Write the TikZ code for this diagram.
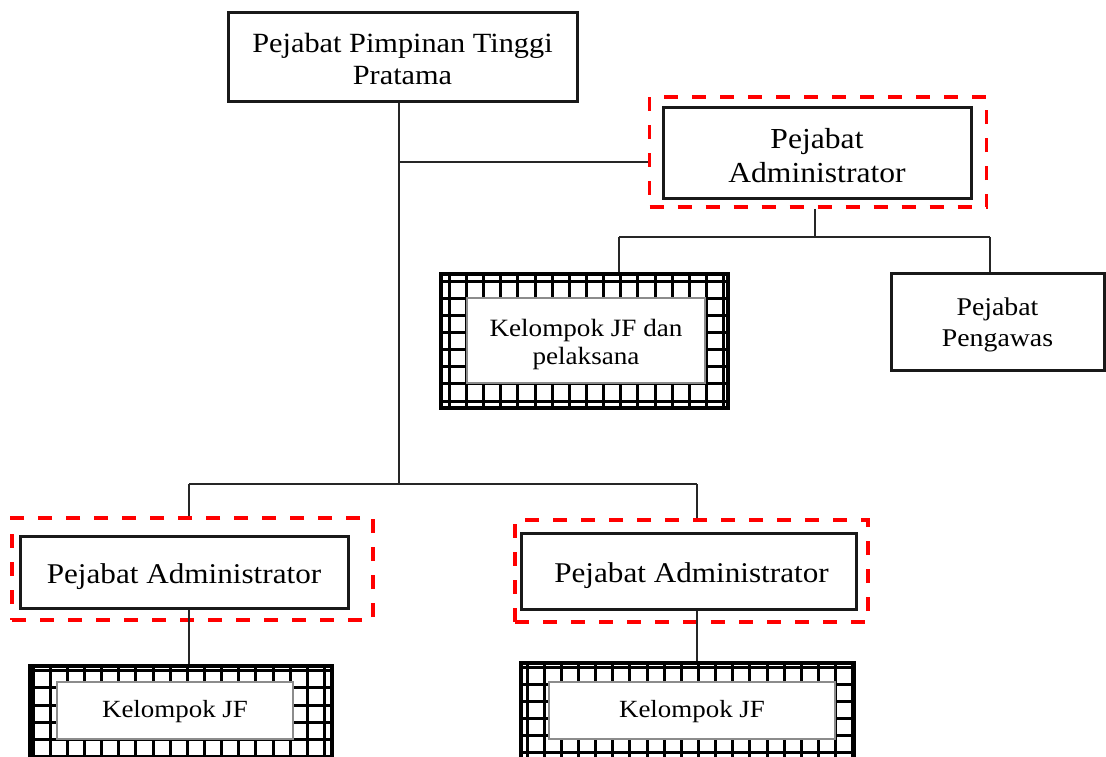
\documentclass[tikz,border=0pt]{standalone}
\usepackage{fontspec}
\setmainfont{Liberation Serif}[FakeStretch=1.09]
\usetikzlibrary{calc}

\newcommand{\fs}[2]{\fontsize{#1}{#2}\selectfont}

\tikzset{
  conn/.style={draw=black!85, line width=1.3pt},
  solidbox/.style={draw=black!90, line width=3pt, inner sep=0pt},
  redframe/.style={draw=red, line width=3.6pt, dash pattern=on 14pt off 14pt, inner sep=0pt},
  textbox/.style={draw=black!45, line width=1.2pt, fill=white, inner sep=0pt},
  lbl/.style={inner sep=0pt, align=center},
  % square mesh drawn inside a rectangle node; #1 and #2 offset the first vertical and horizontal line
  meshbox/.style 2 args={draw=black, line width=3.4pt, inner sep=0pt,
    path picture={
      \foreach \i in {0,...,21} {
        \draw[line width=3pt]
          ([xshift=#1+\i*17.15pt]path picture bounding box.north west) --
          ([xshift=#1+\i*17.15pt]path picture bounding box.south west);
        \draw[line width=3pt]
          ([yshift=-#2-\i*17.15pt]path picture bounding box.north west) --
          ([yshift=-#2-\i*17.15pt]path picture bounding box.north east);
      }
    }},
}

\begin{document}
\begin{tikzpicture}[x=1pt, y=-1pt]
\useasboundingbox (0,0) rectangle (1106,756);
\clip (0,0) rectangle (1106,756);

% head of the unit
\node[solidbox, minimum width=349pt, minimum height=89pt] (top) at (402.5,56.5) {};
\node[lbl, font=\fs{27.8}{32}] (topt) at ([yshift=-2pt]top.center)
  {Pejabat Pimpinan Tinggi\\Pratama};

% administrator, upper right
\node[redframe, minimum width=337pt, minimum height=110pt] (adm1f) at (818,152) {};
\node[solidbox, minimum width=308pt, minimum height=91pt] (adm1) at (817,152.5) {};
\node[lbl, font=\fs{29}{34}] (adm1t) at ([yshift=-3.5pt]adm1.center)
  {Pejabat\\Administrator};

% functional group under the upper administrator
\node[meshbox={8.3pt}{7pt}, minimum width=287pt, minimum height=134pt] (kel1) at (584.5,341) {};
\node[textbox, minimum width=238pt, minimum height=85pt] (kel1b) at (586,340.5) {};
\node[lbl, font=\fs{24.9}{28}] (kel1t) at ([yshift=-4pt]kel1b.center)
  {Kelompok JF dan\\pelaksana};

% supervisor
\node[solidbox, minimum width=213pt, minimum height=97pt] (peng) at (997.5,321.5) {};
\node[lbl, font=\fs{25.5}{31}] (pengt) at ([yshift=-3.5pt]peng.center)
  {Pejabat\\Pengawas};

% administrators, lower row
\node[redframe, minimum width=361pt, minimum height=102pt] (adm2f) at (192.5,569) {};
\node[solidbox, minimum width=328pt, minimum height=72pt] (adm2) at (184,572) {};
\node[lbl, font=\fs{28.6}{34}] (adm2t) at ([yshift=-5pt]adm2.center)
  {Pejabat Administrator};

\node[redframe, minimum width=353pt, minimum height=102pt] (adm3f) at (691.5,571) {};
\node[solidbox, minimum width=335pt, minimum height=76pt] (adm3) at (688.5,571) {};
\node[lbl, font=\fs{28.6}{34}] (adm3t) at ([xshift=3pt,yshift=-5pt]adm3.center)
  {Pejabat Administrator};

% functional groups, lower row
\node[meshbox={3pt}{4.7pt}, minimum width=302pt, minimum height=114pt] (kel2) at (181,723) {};
\node[textbox, minimum width=236pt, minimum height=57pt] (kel2b) at (175,710.5) {};
\node[lbl, font=\fs{24.7}{28}] (kel2t) at ([yshift=-1pt]kel2b.center) {Kelompok JF};

\node[meshbox={6pt}{4pt}, minimum width=333pt, minimum height=117pt] (kel3) at (687.5,721.5) {};
\node[textbox, minimum width=286pt, minimum height=57pt] (kel3b) at (692,710.5) {};
\node[lbl, font=\fs{24.7}{28}] (kel3t) at ([yshift=-1pt]kel3b.center) {Kelompok JF};

% junction points of the connectors
\coordinate (tj) at (399,162);
\coordinate (bj) at (399,484);
\coordinate (rj) at (815,237);
\coordinate (rl) at (619,237);
\coordinate (rr) at (990,237);
\coordinate (bl) at (189,484);
\coordinate (br) at (697,484);

% connectors
\draw[conn] (top.south -| bj) -- (bj);
\draw[conn] (tj) -- (tj -| adm1f.west);
\draw[conn] (adm1f.south -| rj) -- (rj);
\draw[conn] (rl) -- (rr);
\draw[conn] (rl) -- (rl |- kel1.north);
\draw[conn] (rr) -- (rr |- peng.north);
\draw[conn] (bl) -- (br);
\draw[conn] (bl) -- (bl |- adm2f.north);
\draw[conn] (br) -- (br |- adm3f.north);
\draw[conn] (adm2.south -| bl) -- (bl |- kel2.north);
\draw[conn] (adm3.south -| br) -- (br |- kel3.north);
\end{tikzpicture}
\end{document}
